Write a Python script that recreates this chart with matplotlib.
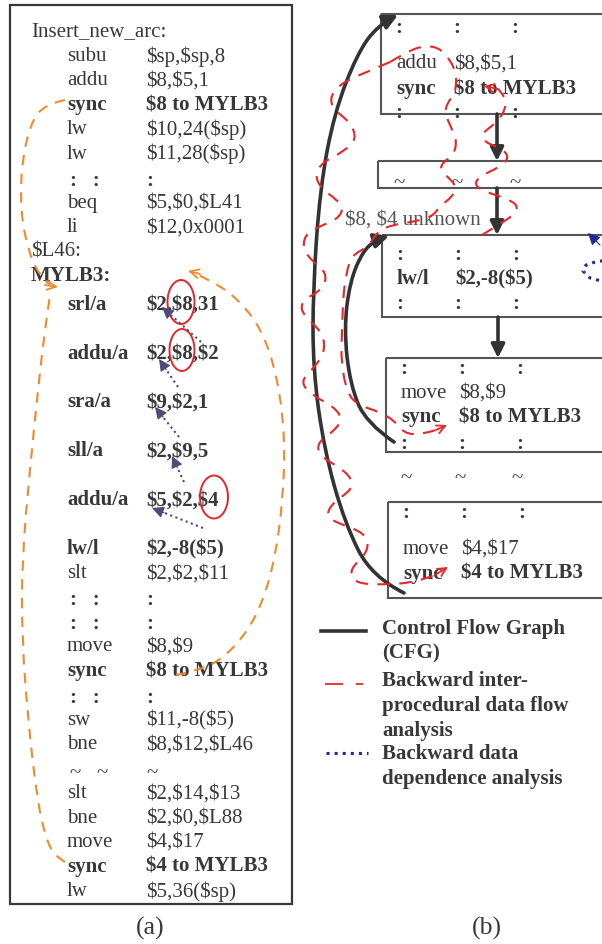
import numpy as np
import matplotlib
matplotlib.use("Agg")
from matplotlib import pyplot as plt
from matplotlib.path import Path
from matplotlib.patches import Rectangle, Ellipse, FancyArrowPatch, PathPatch

plt.rcParams['font.family'] = ['Liberation Serif', 'DejaVu Serif']
plt.rcParams['text.parse_math'] = False

INK = '#383838'
RED = '#e8262a'
ORANGE = '#f28a2c'
SLATE = '#4d4b78'
NAVY = '#232a93'
FS = 15

## (a) assembly listing: opcode, operands, bold flag, line spacing (in rows)
code_ops = ["Insert_new_arc:", "subu", "addu", "sync", "lw", "lw", ":   :", "beq", "li",
            "$L46:", "MYLB3:", "srl/a", "addu/a", "sra/a", "sll/a", "addu/a", "lw/l",
            "slt", ":   :", ":   :", "move", "sync", ":   :", "sw", "bne", "~   ~",
            "slt", "bne", "move", "sync", "lw"]
code_args = ["", "$sp,$sp,8", "$8,$5,1", "$8 to MYLB3", "$10,24($sp)", "$11,28($sp)", ":",
             "$5,$0,$L41", "$12,0x0001", "", "", "$2,$8,31", "$2,$8,$2", "$9,$2,1",
             "$2,$9,5", "$5,$2,$4", "$2,-8($5)", "$2,$2,$11", ":", ":", "$8,$9",
             "$8 to MYLB3", ":", "$11,-8($5)", "$8,$12,$L46", "~", "$2,$14,$13",
             "$2,$0,$L88", "$4,$17", "$4 to MYLB3", "$5,36($sp)"]
code_bold = [0, 0, 0, 1, 0, 0, 1, 0, 0, 0, 1, 1, 1, 1, 1, 1, 1, 0, 1, 1, 0, 1, 1, 0, 0, 0,
             0, 0, 0, 1, 0]
code_step = [0, 1, 1, 1, 1, 1, 1, 1, 1, 1, 1, 1.15, 2, 2, 2, 2, 2, 1, 1, 1, 1, 1, 1, 1, 1, 1,
             1, 1, 1, 1, 1]
is_label = ["Insert_new_arc:", "$L46:", "MYLB3:"]

## (b) CFG blocks: rows of (opcode, operands, bold)
blocks = [
    [(":", ":", ":"), ("addu", "$8,$5,1", 0), ("sync", "$8 to MYLB3", 1), (":", ":", ":")],
    [("~", "~", "~")],
    [(":", ":", ":"), ("lw/l", "$2,-8($5)", 1), (":", ":", ":")],
    [(":", ":", ":"), ("move", "$8,$9", 0), ("sync", "$8 to MYLB3", 1), (":", ":", ":")],
    [(":", ":", ":"), ("move", "$4,$17", 0), ("sync", "$4 to MYLB3", 1)],
]
legend_labels = [["Control Flow Graph", "(CFG)"],
                 ["Backward inter-", "procedural data flow", "analysis"],
                 ["Backward data", "dependence analysis"]]

fig = plt.figure(figsize=(6.02, 9.45), dpi=100)
ax = fig.add_axes([0, 0, 1, 1])
ax.set_xlim(0, 602)
ax.set_ylim(945, 0)
ax.axis('off')


def smooth_path(pts):
    pts = np.asarray(pts, float)
    verts = [pts[0]]
    codes = [Path.MOVETO]
    n = len(pts)
    for i in range(1, n - 1):
        end = pts[-1] if i == n - 2 else (pts[i] + pts[i + 1]) / 2
        verts += [pts[i], end]
        codes += [Path.CURVE3, Path.CURVE3]
    if n == 2:
        verts.append(pts[1])
        codes.append(Path.LINETO)
    return Path(verts, codes)


def dashed(pts, color, lw, ls, z=3):
    ax.add_patch(PathPatch(smooth_path(pts), fill=False, ec=color, lw=lw, ls=ls, zorder=z))


def open_head(tip, frm, color, lw=1.3, size=14):
    ax.annotate('', xy=tip, xytext=frm,
                arrowprops=dict(arrowstyle='->', color=color, lw=lw, mutation_scale=size,
                                shrinkA=0, shrinkB=0), zorder=4)


def solid_head(tip, frm, color, size=16):
    ax.annotate('', xy=tip, xytext=frm,
                arrowprops=dict(arrowstyle='-|>', color=color, lw=0.8, mutation_scale=size,
                                shrinkA=0, shrinkB=0), zorder=4)


# ---- panel (a)
ax.add_patch(Rectangle((9.5, 5.5), 282.5, 899.5, fill=False, ec=INK, lw=1.6, zorder=2))
y = 32
for op, arg, b, st in zip(code_ops, code_args, code_bold, code_step):
    y += st * 24.45
    w = 'bold' if b else 'normal'
    x0 = 31 if op in is_label else 67
    if op.startswith(":") or op.startswith("~"):
        dy = 2 if op[0] == ':' else 4
        ax.text(70, y + dy, op, fontsize=FS, fontweight='bold' if op[0] == ':' else 'normal',
                color=INK, va='center')
        ax.text(146, y + dy, arg, fontsize=FS, fontweight='bold' if arg == ':' else 'normal',
                color=INK, va='center')
        continue
    ax.text(x0, y, op, fontsize=FS, fontweight=w, color=INK, va='center')
    if arg:
        ax.text(146, y, arg, fontsize=FS, fontweight=w, color=INK, va='center')

# register circles
for cx, cy, ew, eh in [(181, 303, 27, 44), (182, 351, 25, 42), (214, 498, 28, 43)]:
    ax.add_patch(Ellipse((cx, cy), ew, eh, fill=False, ec=RED, lw=1.4, zorder=3))

# data dependence chain
for tail, tip in [((203, 529), (152, 509)), ((184, 483), (172, 457)),
                  ((179, 438), (155, 408)), ((178, 388), (159, 360)),
                  ((201, 343), (162, 308))]:
    t = np.array(tail, float)
    p = np.array(tip, float)
    base = p + (t - p) / np.hypot(*(t - p)) * 13
    ax.plot([t[0], base[0]], [t[1], base[1]], ls=':', color=SLATE, lw=1.5, zorder=3)
    solid_head(tuple(p), tuple(base), SLATE, size=18)

# sync back-edges
dashed([(65, 101), (45, 105), (30, 125), (21, 170), (21, 215), (28, 250), (38, 275), (50, 286)],
       ORANGE, 1.5, (0, (5, 4)))
dashed([(65, 863), (55, 857), (46, 840), (37, 800), (28, 720), (22, 640), (22, 560),
        (30, 470), (38, 390), (45, 330), (50, 296)], ORANGE, 1.5, (0, (5, 4)))
open_head((58, 288), (45, 286), ORANGE, size=16)
dashed([(176, 676), (200, 671), (222, 660), (245, 636), (262, 605), (275, 560), (283, 500),
        (285, 440), (278, 380), (262, 330), (236, 298), (210, 281), (192, 273)],
       ORANGE, 1.5, (0, (5, 4)))
open_head((188, 272), (200, 275), ORANGE, size=16)

ax.text(150, 928, "(a)", fontsize=18.5, color=INK, ha='center', va='center')

# ---- panel (b)
box_rects = [(381, 15, 100), (378, 162, 27), (382, 236, 82), (386, 359, 94), (388, 503, 96)]
box_rows = [[28, 64, 89, 113], [181], [255, 279, 304], [369, 393, 417, 444], [513, 549, 574]]
for (bx, by, bh), rows, ys in zip(box_rects, blocks, box_rows):
    ax.add_patch(Rectangle((bx, by), 260, bh, fill=False, ec='#555555', lw=1.5, zorder=2))
    for row, ry in zip(rows, ys):
        if row[0] in (":", "~"):
            tilde = row[0] == "~"
            for k, dx in enumerate((18, 76, 134)):
                ax.text(bx + dx + (3 if tilde else 0), ry + (3 if tilde else 0), row[0],
                        fontsize=FS, fontweight='normal' if tilde else 'bold',
                        color=INK, ha='center', va='center')
        else:
            w = 'bold' if row[2] else 'normal'
            ax.text(bx + 15, ry, row[0], fontsize=FS, fontweight=w, color=INK, va='center')
            ax.text(bx + 73, ry, row[1], fontsize=FS, fontweight=w, color=INK, va='center')

for gx in (406, 460, 517):
    ax.text(gx, 479, "~", fontsize=FS, color=INK, ha='center', va='center')

ax.text(345, 220, "$8, $4 unknown", fontsize=FS, color='#555555', va='center')

# fall-through edges
for x, y0, y1 in [(497, 115, 162), (497, 189, 236), (498, 318, 359)]:
    ax.add_patch(FancyArrowPatch((x, y0), (x, y1), arrowstyle='-|>', mutation_scale=20,
                                 color='#333333', lw=2.6, shrinkA=0, shrinkB=0, zorder=3))

# loop edges
big_arc = [(404, 594), (372, 578), (345, 525), (324, 450), (313, 370), (313, 290),
           (320, 190), (334, 115), (357, 55), (378, 26), (398, 16)]
small_arc = [(394, 443), (366, 424), (350, 385), (344, 330), (350, 282), (363, 252),
             (376, 241), (389, 237)]
for pts in (big_arc, small_arc):
    ax.add_patch(FancyArrowPatch(path=smooth_path(pts), arrowstyle='-|>', mutation_scale=22,
                                 color='#333333', lw=2.6, zorder=3))

# inter-procedural data flow traces
red_ls = (0, (6, 4.5))
trace_outer = [(390, 63), (367, 73), (343, 83), (330, 97), (333, 110), (350, 123), (357, 140),
               (343, 153), (323, 163), (315, 175), (320, 188), (333, 198), (344, 208),
               (338, 220), (318, 228), (305, 236), (303, 250), (313, 263), (327, 274),
               (323, 290), (305, 300), (300, 310), (310, 322), (323, 335), (325, 353),
               (313, 370), (300, 383), (313, 397), (333, 407), (343, 420), (333, 433),
               (317, 444), (320, 457), (337, 467), (350, 477), (353, 488), (343, 497),
               (330, 507), (327, 518), (340, 525), (358, 531), (368, 540), (367, 553),
               (357, 563), (350, 573), (355, 584), (383, 586), (417, 583), (435, 576)]
trace_inner = [(390, 63), (407, 53), (422, 47), (438, 48), (450, 60), (457, 77), (455, 95),
               (447, 104), (445, 115), (452, 130), (457, 143), (453, 157), (443, 163),
               (440, 171), (448, 178), (457, 188), (452, 198), (440, 207), (432, 218),
               (412, 223), (392, 226), (378, 232), (368, 248), (352, 256), (346, 275),
               (343, 300), (342, 335), (341, 362), (347, 394), (358, 406), (380, 413),
               (396, 423), (404, 434), (420, 436), (436, 431)]
trace_mid = [(482, 236), (500, 225), (515, 215), (518, 206), (505, 199), (486, 193),
             (474, 186), (480, 177), (500, 168), (509, 159), (503, 150), (484, 143),
             (482, 134), (495, 125), (505, 112), (506, 98), (498, 90)]
dashed(trace_outer, RED, 1.5, red_ls)
dashed(trace_inner, RED, 1.5, red_ls)
dashed(trace_mid, RED, 1.5, red_ls)
open_head((448, 568), (435, 576), RED, size=15)
open_head((447, 426), (436, 431), RED, size=15)
open_head((484, 87), (498, 90), RED, size=15)

# data dependence from the next block, cut at the edge
ax.plot([612, 598, 586, 583, 590, 605], [262, 262, 266, 272, 279, 283], ls=':', color=NAVY,
        lw=2.2, zorder=3)
solid_head((588, 234), (600, 246), NAVY, size=18)

# legend
ax.plot([321, 366], [632, 632], color='#333333', lw=2.6)
ax.plot([325, 363], [685, 685], color=RED, lw=1.3, ls=(0, (10, 7)))
ax.plot([326, 368], [754, 754], color=NAVY, lw=2.2, ls=':')
for lines, y0 in zip(legend_labels, (629, 681, 754)):
    for k, s in enumerate(lines):
        ax.text(382, y0 + k * 24.8, s, fontsize=FS, fontweight='bold', color=INK, va='center')

ax.text(487, 928, "(b)", fontsize=18.5, color=INK, ha='center', va='center')

fig.savefig("out.png", dpi=100, facecolor='white')
